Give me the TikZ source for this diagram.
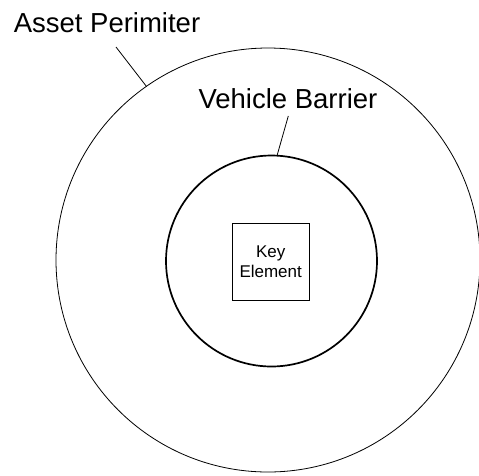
\documentclass[tikz,border=0pt]{standalone}
\usepackage{fontspec}
\setmainfont{Liberation Sans}
\begin{document}
\begin{tikzpicture}[x=1pt,y=-1pt,
  ring/.style={circle,draw,inner sep=0pt,outer sep=0pt},
  bigtext/.style={font=\fontsize{27.5}{32}\selectfont,inner sep=0pt,anchor=base},
  leader/.style={draw,line width=0.8pt}]
\useasboundingbox (0,0) rectangle (479,475);
% perimeter rings
\node[ring,line width=0.8pt,minimum size=424pt] (perimeter) at (268,260) {};
\node[ring,line width=1.7pt,minimum size=211pt] (barrier) at (271.5,261) {};
% protected asset
\node[draw,line width=0.8pt,minimum width=77pt,minimum height=77pt,inner sep=0pt,
      align=center,font=\fontsize{17}{20.4}\selectfont] (key) at (270.7,261.7) {Key\\Element};
% labels with leader lines
\node[bigtext] (assetlbl) at (107,32) {Asset Perimiter};
\node[bigtext] (barrierlbl) at (288,108) {Vehicle Barrier};
\coordinate (assetend) at (116,47);
\coordinate (barrierend) at (288.3,116);
\draw[leader] (assetend) -- (perimeter.125.8);
\draw[leader] (barrierend) -- (barrier.87.7);
\end{tikzpicture}
\end{document}
